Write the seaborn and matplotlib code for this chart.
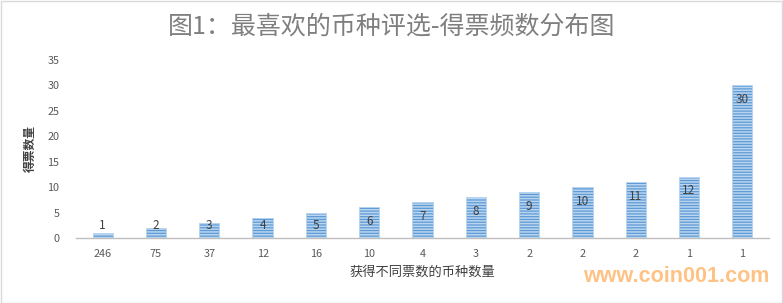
import matplotlib
matplotlib.use("Agg")
import matplotlib.pyplot as plt
import seaborn as sns
import pandas as pd
from matplotlib.patches import Rectangle

# Data
coin_counts = ["246", "75", "37", "12", "16", "10", "4", "3", "2", "2", "2", "1", "1"]
votes = [1, 2, 3, 4, 5, 6, 7, 8, 9, 10, 11, 12, 30]
y_ticks = [0, 5, 10, 15, 20, 25, 30, 35]

title = "图1：最喜欢的币种评选-得票频数分布图"
x_label = "获得不同票数的币种数量"
y_label = "得票数量"
watermark = "www.coin001.com"

sns.set_theme(style="white")
plt.rcParams["font.family"] = ["Noto Sans CJK SC", "DejaVu Sans"]
plt.rcParams["hatch.linewidth"] = 1.1

W, H = 783, 303
fig = plt.figure(figsize=(W / 100, H / 100), dpi=100)
ax = fig.add_axes([76 / W, 1 - 238 / H, (769 - 76) / W, (238 - 60) / H])

df = pd.DataFrame({"idx": list(range(len(votes))), "votes": votes})
sns.barplot(data=df, x="idx", y="votes", ax=ax, color="#5b9bd5",
            width=0.38, saturation=1)

for p in ax.patches:
    p.set_facecolor("#5e9ad6")
    p.set_edgecolor("#b9d5ef")
    p.set_hatch("------")
    p.set_linewidth(0.6)

ax.set_ylim(0, 35)
ax.set_xlim(-0.5, len(votes) - 0.5)
ax.set_yticks(y_ticks)
ax.set_yticklabels([str(t) for t in y_ticks])
ax.set_xticks(range(len(coin_counts)))
ax.set_xticklabels(coin_counts)
ax.tick_params(axis="both", length=0, labelsize=7.8, colors="#595959")
ax.tick_params(axis="x", pad=8)
ax.tick_params(axis="y", pad=12)

for s in ["top", "right", "left"]:
    ax.spines[s].set_visible(False)
ax.spines["bottom"].set_color("#bfbfbf")
ax.spines["bottom"].set_linewidth(1.0)
ax.grid(False)

# data labels
for i, v in enumerate(votes):
    ypos = max(v - 2.75, 2.55)
    ax.text(i, ypos, str(v), ha="center", va="center", fontsize=8.5,
            color="#404040")

ax.set_xlabel("")
ax.set_ylabel("")
fig.text(422 / W, 1 - 272 / H, x_label, ha="center", va="center",
         fontsize=9.5, color="#404040")
fig.text(30 / W, 1 - 148 / H, y_label, ha="center", va="center",
         rotation=90, fontsize=8.5, fontweight="bold", color="#404040")

fig.text(392 / W, 1 - 27 / H, title, ha="center", va="center",
         fontsize=18, color="#7f7f7f", fontweight="medium")

fig.text(676 / W, 1 - 276 / H, watermark, ha="center", va="center",
         fontsize=15.5, fontweight="bold", color="#ffc285",
         family=["Liberation Sans", "DejaVu Sans"])

fig.patches.append(Rectangle((0.5 / W, 0.5 / H), 1 - 1.5 / W, 1 - 1.5 / H,
                             transform=fig.transFigure, fill=False,
                             edgecolor="#d9d9d9", linewidth=1))

fig.savefig("out.png", dpi=100)
